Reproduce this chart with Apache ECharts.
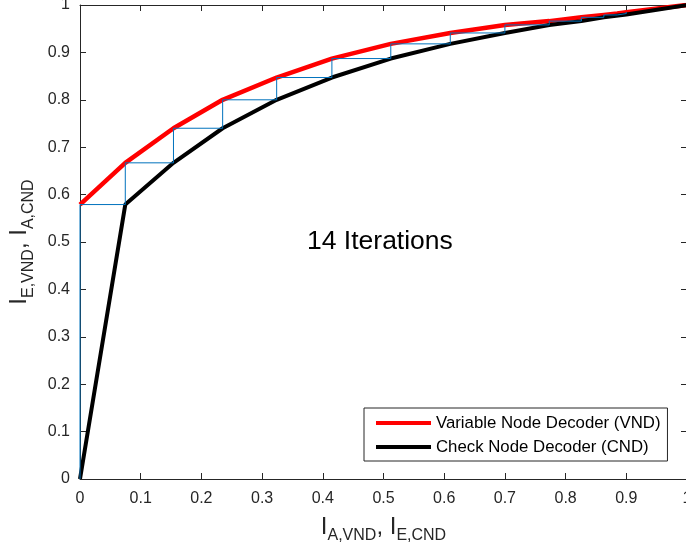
<!DOCTYPE html>
<html>
<head>
<meta charset="utf-8">
<script src="https://cdn.jsdelivr.net/npm/echarts@6/dist/echarts.min.js"></script>
<style>
  html, body { margin: 0; padding: 0; background: #fff; }
  #chart { width: 686px; height: 554px; }
</style>
</head>
<body>
<div id="chart"></div>
<script>
// EXIT chart: transfer curves of the variable and check node decoders
// plus the decoding trajectory between them.

// Variable node decoder curve (I_A,VND -> I_E,VND)
const vndX = [0, 0.0746, 0.154, 0.235, 0.324, 0.415, 0.512, 0.610, 0.700, 0.773, 0.826, 0.863, 0.885, 0.900, 1];
const vndY = [0.579, 0.667, 0.740, 0.800, 0.847, 0.887, 0.918, 0.941, 0.958, 0.966, 0.974, 0.979, 0.982, 0.985, 1];

// Check node decoder curve (I_E,CND -> I_A,CND), axes swapped
const cndX = [0, 0.0746, 0.154, 0.235, 0.324, 0.415, 0.512, 0.610, 0.700, 0.773, 0.826, 0.863, 0.900, 1];
const cndY = [0, 0.579, 0.667, 0.740, 0.800, 0.847, 0.887, 0.918, 0.941, 0.958, 0.966, 0.974, 0.980, 1];

// Decoding trajectory: a-priori input per iteration and the extrinsic output it yields
const iterIn  = [0, 0.0746, 0.154, 0.235, 0.324, 0.415, 0.512, 0.610, 0.700, 0.773, 0.826, 0.863, 0.885, 0.900];
const iterOut = [0.579, 0.667, 0.740, 0.800, 0.847, 0.887, 0.918, 0.941, 0.958, 0.966, 0.974, 0.979, 0.982, 0.985];

const seriesNames = ['Variable Node Decoder (VND)', 'Check Node Decoder (CND)'];
const annotation = '14 Iterations';

const FONT = '"Liberation Sans", Arial, Helvetica, sans-serif';
const AXIS_COLOR = '#262626';

const zip = (xs, ys) => xs.map((x, i) => [x, ys[i]]);

// staircase: vertical step up to the output, then horizontal step to the next input
const trajectory = [[0, 0]];
iterIn.forEach((x, i) => {
  trajectory.push([x, i === 0 ? 0 : iterOut[i - 1]]);
  trajectory.push([x, iterOut[i]]);
});

const richName = {
  m: { fontSize: 24, lineHeight: 24, fontFamily: FONT, color: AXIS_COLOR, verticalAlign: 'top' },
  s: { fontSize: 16, lineHeight: 16, fontFamily: FONT, color: AXIS_COLOR, verticalAlign: 'top', padding: [13, 0, 0, 0] }
};

function axisCommon(extra) {
  return Object.assign({
    type: 'value', min: 0, max: 1, interval: 0.1,
    axisLine: { onZero: false, lineStyle: { color: AXIS_COLOR, width: 1 } },
    axisTick: { inside: true, length: 6, lineStyle: { color: AXIS_COLOR, width: 1 } },
    splitLine: { show: false },
    axisLabel: { fontSize: 16, color: AXIS_COLOR, fontFamily: FONT }
  }, extra);
}

const chart = echarts.init(document.getElementById('chart'), null, { renderer: 'canvas' });
chart.setOption({
  animation: false,
  backgroundColor: '#fff',
  grid: { left: 80, top: 5, width: 607, height: 474, containLabel: false, outerBoundsMode: 'none' },
  xAxis: [
    axisCommon({
      position: 'bottom',
      axisLabel: { fontSize: 16, color: AXIS_COLOR, fontFamily: FONT, margin: 12 },
      name: '{m|I}{s|A,VND}{m|, I}{s|E,CND}',
      nameLocation: 'middle', nameGap: 36,
      nameTextStyle: { rich: richName }
    }),
    axisCommon({ position: 'top', axisLabel: { show: false } })
  ],
  yAxis: [
    axisCommon({
      position: 'left',
      axisLabel: { fontSize: 16, color: AXIS_COLOR, fontFamily: FONT, margin: 10 },
      name: '{m|I}{s|E,VND}{m|, I}{s|A,CND}',
      nameLocation: 'middle', nameGap: 44,
      nameTextStyle: { rich: richName }
    }),
    axisCommon({ position: 'right', axisLabel: { show: false } })
  ],
  legend: {
    orient: 'vertical',
    left: 364, top: 408,
    padding: [5, 7, 4, 12],
    itemGap: 4,
    itemWidth: 55, itemHeight: 4,
    icon: 'rect',
    backgroundColor: '#fff',
    borderColor: AXIS_COLOR, borderWidth: 1, borderRadius: 0,
    textStyle: { fontSize: 16.8, lineHeight: 20, color: '#000', fontFamily: FONT },
    data: seriesNames
  },
  graphic: [{
    type: 'text', left: 307, top: 228,
    style: { text: annotation, fontSize: 26.5, fontFamily: FONT, fill: '#000' },
    z: 10
  }],
  series: [
    {
      name: seriesNames[0], type: 'line', data: zip(vndX, vndY),
      showSymbol: false, lineStyle: { color: '#ff0000', width: 4.5 }, itemStyle: { color: '#ff0000' },
      z: 2
    },
    {
      name: seriesNames[1], type: 'line', data: zip(cndX, cndY),
      showSymbol: false, lineStyle: { color: '#000000', width: 4 }, itemStyle: { color: '#000000' },
      z: 3
    },
    {
      name: 'Trajectory', type: 'line', data: trajectory,
      showSymbol: false, lineStyle: { color: '#0072BD', width: 1 },
      z: 4
    }
  ]
});
</script>
</body>
</html>
